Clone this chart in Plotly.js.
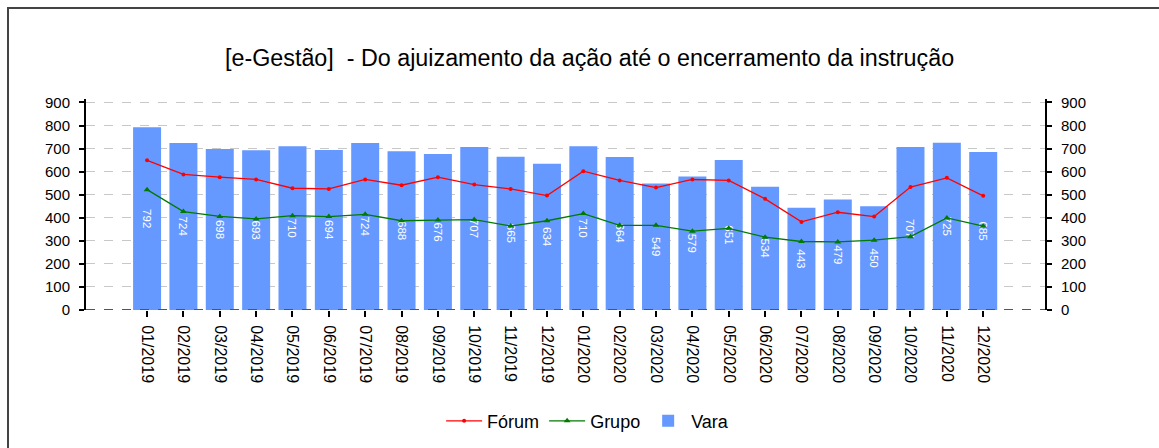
<!DOCTYPE html>
<html>
<head>
<meta charset="utf-8">
<script src="https://cdn.plot.ly/plotly-3.0.1.min.js"></script>
<style>
  html, body { margin: 0; padding: 0; background: #fff; overflow: hidden; }
  #chart { width: 1159px; height: 448px; }
  #frame { position: absolute; left: 7px; top: 7px; width: 1300px; height: 600px;
           border-left: 2px solid #444; border-top: 2px solid #444; pointer-events: none; }
</style>
</head>
<body>
<div id="chart"></div>
<div id="frame"></div>
<script>
const months = ["01/2019","02/2019","03/2019","04/2019","05/2019","06/2019","07/2019","08/2019","09/2019","10/2019","11/2019","12/2019",
                "01/2020","02/2020","03/2020","04/2020","05/2020","06/2020","07/2020","08/2020","09/2020","10/2020","11/2020","12/2020"];
const vara  = [792,724,698,693,710,694,724,688,676,707,665,634,710,664,549,579,651,534,443,479,450,707,725,685];
const forum = [649,588,576,566,528,525,566,541,576,544,525,496,602,562,531,566,562,482,382,424,405,533,573,495];
const grupo = [522,427,406,395,409,405,415,387,390,392,364,387,418,367,367,342,354,316,297,295,303,318,399,364];

const traces = [
  { type: 'scatter', mode: 'lines+markers', name: 'Fórum', x: months, y: forum,
    line: { color: '#FF0000', width: 1.3 }, marker: { color: '#FF0000', size: 4, symbol: 'circle' } },
  { type: 'scatter', mode: 'lines+markers', name: 'Grupo', x: months, y: grupo,
    line: { color: '#007A00', width: 1.3 }, marker: { color: '#007A00', size: 6, symbol: 'triangle-up' } },
  { type: 'bar', name: 'Vara', x: months, y: vara, width: 0.77,
    marker: { color: '#6699FF' },
    text: vara.map(String), textposition: 'inside', insidetextanchor: 'middle', textangle: 90,
    constraintext: 'none',
    textfont: { color: '#FFFFFF', size: 11.5, family: 'Liberation Sans, Arial, sans-serif' } },
  { type: 'scatter', mode: 'none', x: months, y: vara, yaxis: 'y2', showlegend: false, hoverinfo: 'skip' }
];

const layout = {
  width: 1159, height: 448,
  margin: { l: 86, r: 114, t: 99, b: 138 },
  paper_bgcolor: '#FFFFFF', plot_bgcolor: '#FFFFFF',
  font: { family: 'Liberation Sans, Arial, sans-serif', color: '#000' },
  title: { text: '[e-Gestão]  - Do ajuizamento da ação até o encerramento da instrução',
           font: { size: 23.3, color: '#000' }, x: 0.5087, xanchor: 'center', y: 0.87, yanchor: 'middle', xref: 'container', yref: 'container' },
  showlegend: true,
  legend: { orientation: 'h', xref: 'container', yref: 'container', x: 0.507, xanchor: 'center',
            y: 0.06, yanchor: 'middle', font: { size: 18 }, traceorder: 'normal', itemwidth: 36 },
  xaxis: { type: 'category', range: [-1.68, 24.7], showgrid: false, zeroline: false, showline: false,
           ticks: 'outside', ticklen: 6, tickwidth: 2, tickcolor: '#000', tickangle: 90,
           tickfont: { size: 16 }, ticklabelstandoff: 5, fixedrange: true },
  yaxis: { range: [0, 915], dtick: 100, tick0: 0, showgrid: true, gridcolor: '#C8C8C8', griddash: 'dash',
           zeroline: false, showline: true, linecolor: '#000', linewidth: 2,
           ticks: 'outside', ticklen: 5, tickwidth: 2, tickcolor: '#000',
           tickfont: { size: 15 }, ticklabelstandoff: 6 },
  yaxis2: { overlaying: 'y', side: 'right', range: [0, 915], dtick: 100, tick0: 0, showgrid: false,
            zeroline: false, showline: true, linecolor: '#000', linewidth: 2,
            ticks: 'outside', ticklen: 5, tickwidth: 2, tickcolor: '#000',
            tickfont: { size: 15 }, ticklabelstandoff: 6 },
  bargap: 0.23,
  shapes: [
    { type: 'line', xref: 'paper', yref: 'y', x0: 0, x1: 1, y0: 0, y1: 0,
      line: { color: '#555', width: 2, dash: 'dash' }, layer: 'above' }
  ]
};

Plotly.newPlot('chart', traces, layout, { displayModeBar: false, staticPlot: true });
</script>
</body>
</html>
